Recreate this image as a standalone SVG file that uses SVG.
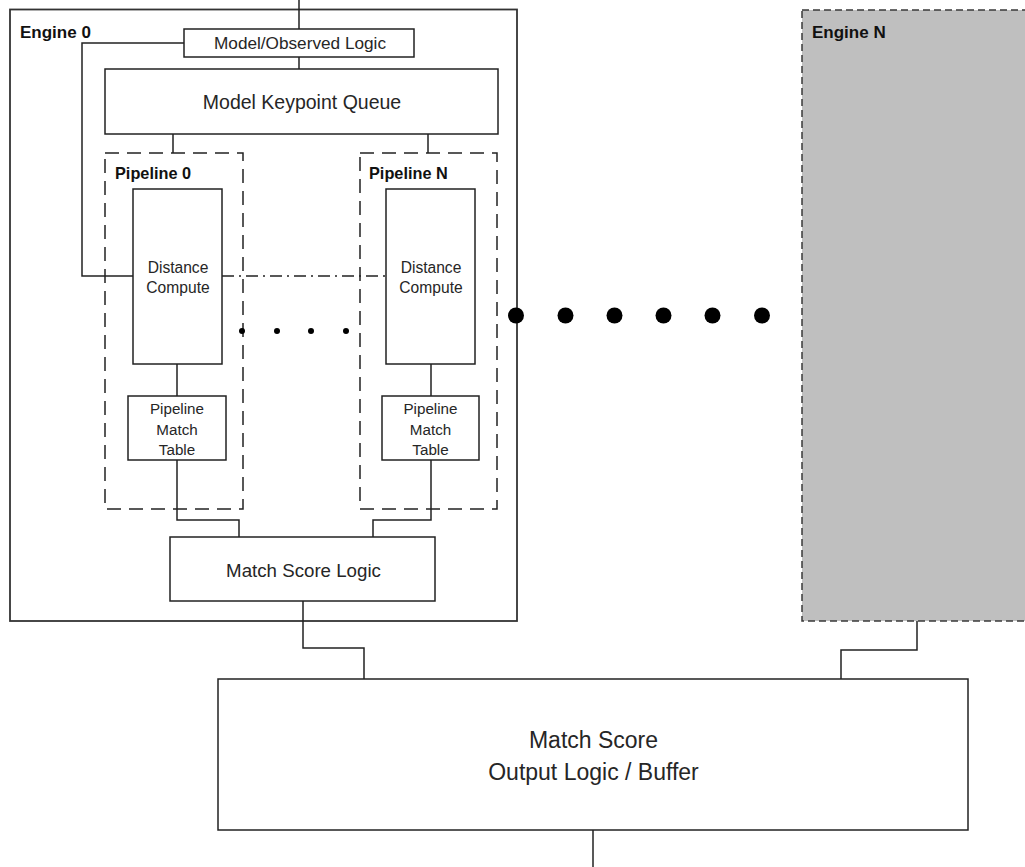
<svg xmlns="http://www.w3.org/2000/svg" width="1025" height="867" viewBox="0 0 1025 867">
<style>
.box{fill:#fff;stroke:#222;stroke-width:1.5}
.ln{fill:none;stroke:#222;stroke-width:1.5}
.pipe{fill:none;stroke:#222;stroke-width:1.5;stroke-dasharray:14 8}
.t{font-family:"Liberation Sans",Arial,sans-serif;fill:#262626;text-anchor:middle}
.b{font-family:"Liberation Sans",Arial,sans-serif;font-weight:bold;fill:#111}
</style>
<rect width="1025" height="867" fill="#fff"/>
<g id="engine0">
<rect x="10" y="9.5" width="507" height="611.5" fill="#fff" stroke="#333" stroke-width="1.8"/>
<text class="b" x="20" y="37.7" font-size="17">Engine 0</text>
</g>
<g id="engineN">
<rect x="802" y="10" width="240" height="611" fill="#bfbfbf" stroke="#3a3a3a" stroke-width="1.5" stroke-dasharray="7 4"/>
<text class="b" x="812" y="37.7" font-size="17">Engine N</text>
</g>
<g id="connectors">
<path class="ln" d="M299 0V29M299 57V69"/>
<path class="ln" d="M184 43H82V276H133"/>
<path class="ln" d="M173 134V153M428 134V153"/>
<path class="ln" d="M222 276H386" stroke-dasharray="12 5 2 5"/>
<path class="ln" d="M177 364V396M431 364V396"/>
<path class="ln" d="M177 460V520H239V537M431 460V520H373V537"/>
<path class="ln" d="M303 601V648H364V679"/>
<path class="ln" d="M917 621V650H841V679"/>
<path class="ln" d="M593 830V867"/>
</g>
<g id="model-observed-logic">
<rect class="box" x="184" y="29" width="230" height="28"/>
<text class="t" x="300" y="49.3" font-size="17.2">Model/Observed Logic</text>
</g>
<g id="model-keypoint-queue">
<rect class="box" x="105" y="69" width="393" height="65"/>
<text class="t" x="302" y="109" font-size="19.5">Model Keypoint Queue</text>
</g>
<g id="pipeline0">
<rect class="pipe" x="105" y="153" width="138" height="356"/>
<text class="b" x="115" y="179" font-size="16.3">Pipeline 0</text>
</g>
<g id="pipelineN">
<rect class="pipe" x="360" y="153" width="137" height="356"/>
<text class="b" x="369" y="179" font-size="16.3">Pipeline N</text>
</g>
<g id="distance-compute-0">
<rect class="box" x="133" y="189" width="89" height="175"/>
<text class="t" x="178" y="272.7" font-size="15.6">Distance</text>
<text class="t" x="178" y="292.7" font-size="15.6">Compute</text>
</g>
<g id="distance-compute-N">
<rect class="box" x="386" y="189" width="89" height="175"/>
<text class="t" x="431" y="272.7" font-size="15.6">Distance</text>
<text class="t" x="431" y="292.7" font-size="15.6">Compute</text>
</g>
<g id="pipeline-match-table-0">
<rect class="box" x="128" y="396" width="98" height="64"/>
<text class="t" x="177" y="414.3" font-size="15.2">Pipeline</text>
<text class="t" x="177" y="435" font-size="15.2">Match</text>
<text class="t" x="177" y="455" font-size="15.2">Table</text>
</g>
<g id="pipeline-match-table-N">
<rect class="box" x="382" y="396" width="97" height="64"/>
<text class="t" x="430.5" y="414.3" font-size="15.2">Pipeline</text>
<text class="t" x="430.5" y="435" font-size="15.2">Match</text>
<text class="t" x="430.5" y="455" font-size="15.2">Table</text>
</g>
<g id="pipeline-ellipsis" fill="#000">
<circle cx="242" cy="331" r="3"/>
<circle cx="277" cy="331" r="3"/>
<circle cx="311" cy="331" r="3"/>
<circle cx="346" cy="331" r="3"/>
</g>
<g id="engine-ellipsis" fill="#000">
<circle cx="516" cy="315.5" r="8"/>
<circle cx="565.5" cy="315.5" r="8"/>
<circle cx="614.5" cy="315.5" r="8"/>
<circle cx="663.5" cy="315.5" r="8"/>
<circle cx="712.5" cy="315.5" r="8"/>
<circle cx="762" cy="315.5" r="8"/>
</g>
<g id="match-score-logic">
<rect class="box" x="170" y="537" width="265" height="64"/>
<text class="t" x="303.5" y="576.7" font-size="18.7">Match Score Logic</text>
</g>
<g id="match-score-output">
<rect class="box" x="218" y="679" width="750" height="151"/>
<text class="t" x="593.5" y="747.7" font-size="23" fill="#111">Match Score</text>
<text class="t" x="593.5" y="780" font-size="23" fill="#111">Output Logic / Buffer</text>
</g>
</svg>
